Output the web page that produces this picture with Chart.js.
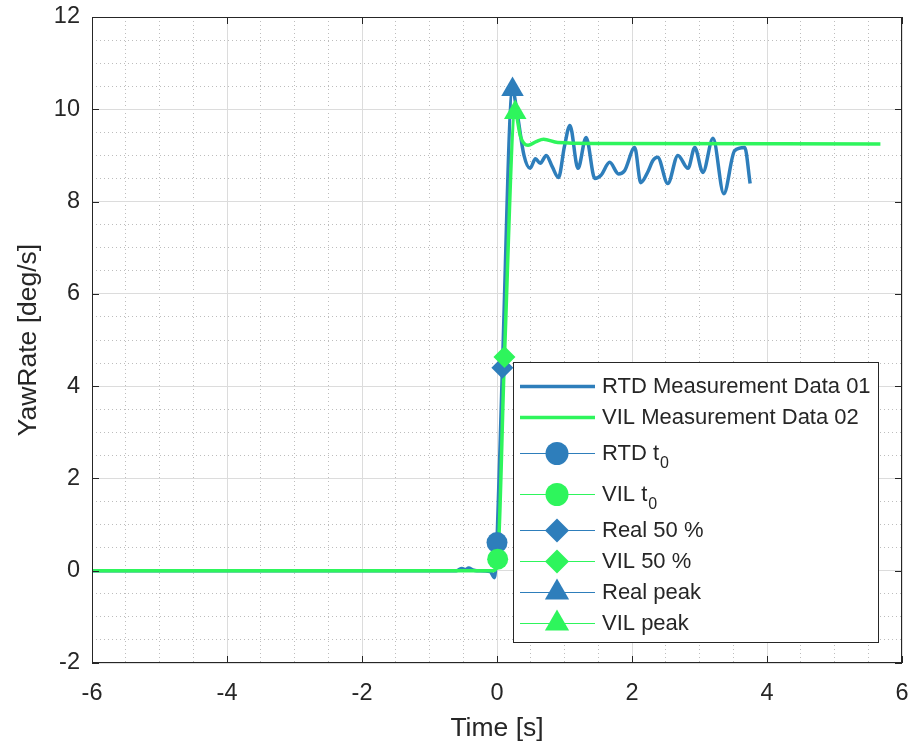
<!DOCTYPE html>
<html>
<head>
<meta charset="utf-8">
<script src="https://cdn.jsdelivr.net/npm/chart.js@4.4.1/dist/chart.umd.min.js"></script>
<style>
  html, body { margin: 0; padding: 0; background: #ffffff; }
  #wrap { width: 915px; height: 745px; }
</style>
</head>
<body>
<div id="wrap"><canvas id="yaw-chart" width="915" height="745"></canvas></div>
<script>
// real test drive (RTD)
const rtdTime = [-6, -0.6, -0.52, -0.47, -0.42, -0.36, -0.3, -0.1, -0.04, 0.0,
                 0.08, 0.23, 0.3, 0.4, 0.49, 0.57, 0.64, 0.73, 0.82, 0.91,
                 1.0, 1.08, 1.2, 1.32, 1.45, 1.54, 1.67, 1.8, 1.89, 2.04,
                 2.13, 2.23, 2.31, 2.38, 2.53, 2.68, 2.83, 2.93, 3.05, 3.2,
                 3.36, 3.52, 3.67, 3.75];
const rtdYaw  = [0, 0, 0.05, 0.02, 0.06, 0.02, 0, -0.02, -0.15, 0.61,
                 4.40, 10.43, 9.9, 9.0, 8.72, 8.93, 8.83, 9.0, 8.75, 8.52,
                 9.2, 9.65, 8.72, 9.39, 8.5, 8.57, 8.85, 8.6, 8.67, 9.17,
                 8.41, 8.63, 8.89, 8.96, 8.39, 9.0, 8.72, 9.17, 8.63, 9.37,
                 8.17, 9.1, 9.17, 8.39];

// vehicle in the loop (VIL)
const vilTime = [-6, -0.05, 0.01, 0.11, 0.27, 0.35, 0.46, 0.58, 0.69, 0.9, 1.5, 5.68];
const vilYaw  = [0, 0, 0.25, 4.63, 9.93, 9.4, 9.22, 9.3, 9.35, 9.28, 9.26, 9.25];

// event markers
const markerNames = ['RTD t', 'VIL t', 'Real 50 %', 'VIL 50 %', 'Real peak', 'VIL peak'];
const markerSubs  = ['0', '0', '', '', '', ''];
const markerTime  = [0.0, 0.01, 0.08, 0.11, 0.23, 0.27];
const markerYaw   = [0.61, 0.25, 4.40, 4.63, 10.43, 9.93];

const xTicks = [-6, -4, -2, 0, 2, 4, 6];
const yTicks = [-2, 0, 2, 4, 6, 8, 10, 12];

const blue = '#2e7ebb';
const green = '#2ef55c';
const ink = '#262626';
const font = '"Liberation Sans", Arial, sans-serif';

function toPoints(xs, ys) {
    return xs.map((x, i) => ({x: x, y: ys[i]}));
}

const markerStyles = ['circle', 'circle', 'rectRot', 'rectRot', 'triangle', 'triangle'];
const markerSizes = [10.5, 10.5, 11, 11, 13, 13];

let datasets = [
    {
        label: 'RTD Measurement Data 01',
        data: toPoints(rtdTime, rtdYaw),
        showLine: true,
        borderColor: blue,
        borderWidth: 3.5,
        pointRadius: 0,
        cubicInterpolationMode: 'monotone',
        thick: true,
        order: 8
    },
    {
        label: 'VIL Measurement Data 02',
        data: toPoints(vilTime, vilYaw),
        showLine: true,
        borderColor: green,
        borderWidth: 3.5,
        pointRadius: 0,
        cubicInterpolationMode: 'monotone',
        thick: true,
        order: 7
    }
];

for (let i = 0; i < markerNames.length; i++) {
    let col = i % 2 === 0 ? blue : green;
    datasets.push({
        label: markerNames[i],
        sub: markerSubs[i],
        data: [{x: markerTime[i], y: markerYaw[i]}],
        showLine: false,
        borderColor: col,
        backgroundColor: col,
        pointStyle: markerStyles[i],
        pointRadius: markerSizes[i],
        pointBorderWidth: 0,
        order: 6 - i
    });
}

// axes box with inward tick marks, like the matlab figure
const axesBox = {
    id: 'axesBox',
    afterDatasetsDraw(chart) {
        const ctx = chart.ctx;
        const a = chart.chartArea;
        const xs = chart.scales.x;
        const ys = chart.scales.y;
        ctx.save();
        ctx.strokeStyle = ink;
        ctx.lineWidth = 1;
        ctx.strokeRect(Math.round(a.left) + 0.5, Math.round(a.top) + 0.5,
                       Math.round(a.right - a.left) - 1, Math.round(a.bottom - a.top) - 1);
        const len = 7;
        ctx.beginPath();
        xTicks.forEach(v => {
            let px = Math.round(xs.getPixelForValue(v)) + 0.5;
            ctx.moveTo(px, a.bottom); ctx.lineTo(px, a.bottom - len);
            ctx.moveTo(px, a.top); ctx.lineTo(px, a.top + len);
        });
        yTicks.forEach(v => {
            let py = Math.round(ys.getPixelForValue(v)) + 0.5;
            ctx.moveTo(a.left, py); ctx.lineTo(a.left + len, py);
            ctx.moveTo(a.right, py); ctx.lineTo(a.right - len, py);
        });
        ctx.stroke();
        ctx.restore();
    }
};

// legend box in the lower right corner of the axes
const legendBox = {
    id: 'legendBox',
    afterDraw(chart) {
        const ctx = chart.ctx;
        const a = chart.chartArea;
        const sets = chart.data.datasets;
        const width = 366;
        let height = 9 + 4;
        sets.forEach(ds => { height += ds.sub ? 41 : 31; });
        const left = Math.round(a.right - 23 - width);
        const top = Math.round(a.bottom - 20 - height);

        ctx.save();
        ctx.fillStyle = '#ffffff';
        ctx.fillRect(left, top, width, height);
        ctx.strokeStyle = ink;
        ctx.lineWidth = 1;
        ctx.strokeRect(left + 0.5, top + 0.5, width - 1, height - 1);

        let cursor = top + 9;
        sets.forEach(ds => {
            let cy = cursor + (ds.sub ? 20.5 : 15.5);
            ctx.strokeStyle = ds.borderColor;
            ctx.lineWidth = ds.thick ? 3.5 : 1;
            ctx.beginPath();
            ctx.moveTo(left + 7, cy);
            ctx.lineTo(left + 82, cy);
            ctx.stroke();
            if (!ds.thick) {
                ctx.fillStyle = ds.backgroundColor;
                Chart.helpers.drawPoint(ctx, {
                    pointStyle: ds.pointStyle,
                    radius: ds.pointRadius + 1,
                    rotation: 0,
                    borderWidth: 0
                }, left + 44, cy);
            }
            ctx.fillStyle = ink;
            ctx.font = '22px ' + font;
            ctx.textBaseline = 'middle';
            ctx.textAlign = 'left';
            ctx.fillText(ds.label, left + 89, cy);
            if (ds.sub) {
                let w = ctx.measureText(ds.label).width;
                ctx.font = '16px ' + font;
                ctx.fillText(ds.sub, left + 89 + w + 1, cy + 10);
            }
            cursor += ds.sub ? 41 : 31;
        });
        ctx.restore();
    }
};

function gridColor(list) {
    return c => list.includes(c.tick.value) ? '#dcdcdc' : '#bdbdbd';
}
function gridDash(list) {
    return c => list.includes(c.tick.value) ? [] : [1, 3];
}

// keep the plot area fixed: no extra room for overhanging labels
function noOverhang(scale) {
    scale.paddingTop = 0;
    scale.paddingBottom = 0;
    scale.paddingLeft = 0;
    scale.paddingRight = 0;
}

const config = {
    type: 'scatter',
    data: {datasets: datasets},
    options: {
        responsive: false,
        animation: false,
        layout: {padding: {top: 17, right: 10, bottom: 0, left: 0}},
        plugins: {
            legend: {display: false},
            tooltip: {enabled: false}
        },
        scales: {
            x: {
                type: 'linear',
                min: xTicks[0],
                max: xTicks[xTicks.length - 1],
                afterFit(scale) { scale.height = 82; noOverhang(scale); },
                ticks: {
                    stepSize: 0.5,
                    autoSkip: false,
                    maxRotation: 0,
                    minRotation: 0,
                    padding: 16,
                    color: ink,
                    font: {family: font, size: 23.5},
                    callback: v => xTicks.includes(v) ? String(v) : ''
                },
                grid: {color: gridColor(xTicks), lineWidth: 1, drawTicks: false},
                border: {display: false, dash: gridDash(xTicks)},
                title: {
                    display: true,
                    text: 'Time [s]',
                    color: ink,
                    font: {family: font, size: 26.5},
                    padding: {top: 0, bottom: 0}
                }
            },
            y: {
                type: 'linear',
                min: yTicks[0],
                max: yTicks[yTicks.length - 1],
                afterFit(scale) { scale.width = 92; noOverhang(scale); },
                ticks: {
                    stepSize: 0.5,
                    autoSkip: false,
                    padding: 12,
                    color: ink,
                    font: {family: font, size: 23.5},
                    callback: v => yTicks.includes(v) ? String(v) : ''
                },
                grid: {color: gridColor(yTicks), lineWidth: 1, drawTicks: false},
                border: {display: false, dash: gridDash(yTicks)},
                title: {
                    display: true,
                    text: 'YawRate [deg/s]',
                    color: ink,
                    font: {family: font, size: 26.5},
                    padding: {top: 13, bottom: 0}
                }
            }
        }
    },
    plugins: [axesBox, legendBox]
};

let ctx = document.getElementById('yaw-chart').getContext('2d');
window.yawChart = new Chart(ctx, config);
</script>
</body>
</html>
